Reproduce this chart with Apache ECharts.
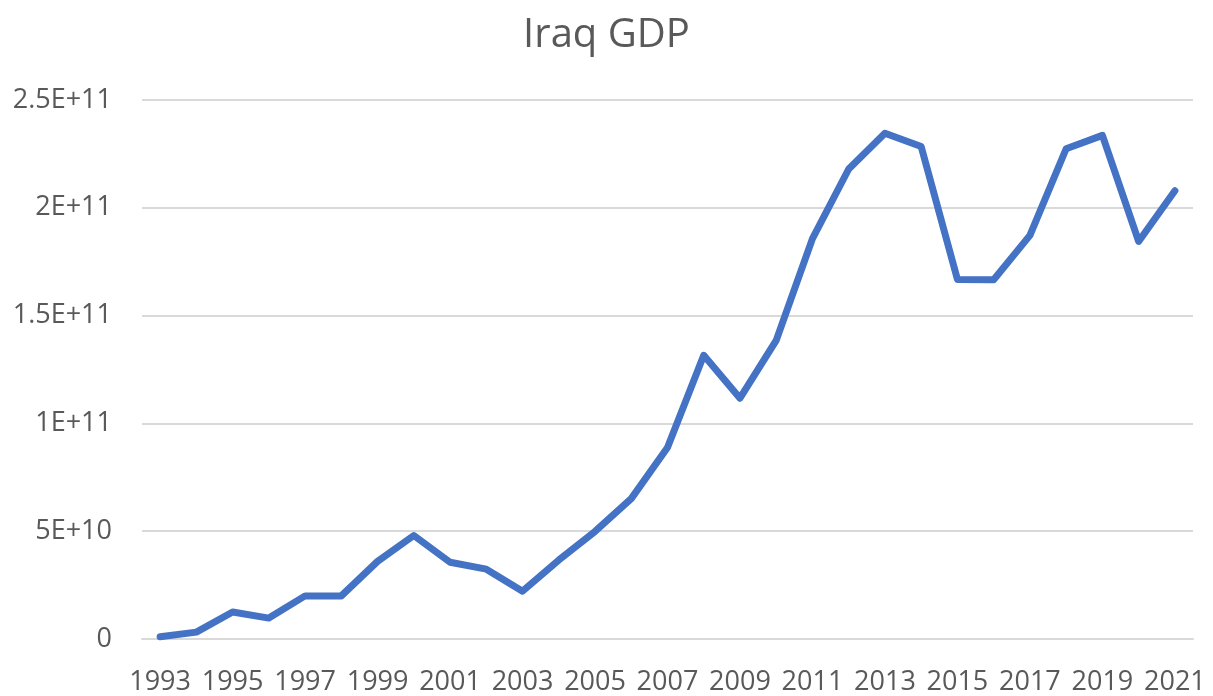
<!DOCTYPE html>
<html>
<head>
<meta charset="utf-8">
<script src="https://cdn.jsdelivr.net/npm/echarts@6/dist/echarts.min.js"></script>
<style>html,body{margin:0;padding:0;background:#fff;}#c{width:1213px;height:696px;}</style>
</head>
<body>
<div id="c"></div>
<script>
var years = ['1993','1994','1995','1996','1997','1998','1999','2000','2001','2002','2003','2004','2005','2006','2007','2008','2009','2010','2011','2012','2013','2014','2015','2016','2017','2018','2019','2020','2021'];
var gdp = [1.0e9, 3.2e9, 12.5e9, 9.7e9, 20.0e9, 20.0e9, 36.0e9, 48.0e9, 35.6e9, 32.4e9, 22.2e9, 36.6e9, 49.9e9, 65.1e9, 88.8e9, 131.6e9, 111.7e9, 138.5e9, 185.7e9, 218.0e9, 234.6e9, 228.4e9, 166.8e9, 166.6e9, 187.2e9, 227.4e9, 233.6e9, 184.4e9, 207.9e9];
var yTicks = ['0','5E+10','1E+11','1.5E+11','2E+11','2.5E+11'];

var chart = echarts.init(document.getElementById('c'));
var font = '"Open Sans", "Noto Sans", sans-serif';
chart.setOption({
  animation: false,
  title: {
    text: 'Iraq GDP', left: 'center', top: 11,
    textStyle: {fontFamily: font, fontSize: 40, fontWeight: 'normal', color: '#595959'}
  },
  grid: {left: 142, right: 20, top: 100, bottom: 56},
  xAxis: {
    type: 'category', data: years, boundaryGap: true,
    axisLine: {lineStyle: {color: '#d9d9d9', width: 2}},
    axisTick: {show: false},
    axisLabel: {interval: 1, fontFamily: font, fontSize: 27, color: '#595959', margin: 30}
  },
  yAxis: {
    type: 'value', min: 0, max: 2.5e11, interval: 5e10,
    axisLine: {show: false}, axisTick: {show: false},
    splitLine: {lineStyle: {color: '#d9d9d9', width: 2}},
    axisLabel: {
      fontFamily: font, fontSize: 27, color: '#595959', margin: 30,
      formatter: function (v) { return yTicks[Math.round(v / 5e10)]; }
    }
  },
  series: [{
    type: 'line', data: gdp, showSymbol: false,
    lineStyle: {color: '#4472C4', width: 7, cap: 'round', join: 'round'},
    itemStyle: {color: '#4472C4'}
  }]
});
</script>
</body>
</html>
